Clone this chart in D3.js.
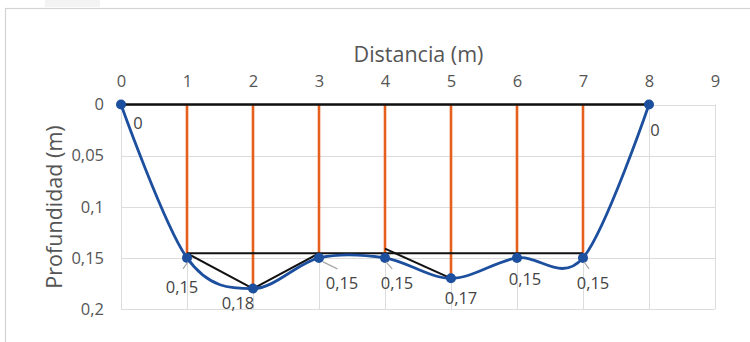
<!DOCTYPE html>
<html>
<head>
<meta charset="utf-8">
<script src="https://cdn.jsdelivr.net/npm/d3@7"></script>
<style>
  html, body { margin: 0; padding: 0; background: #fff; }
  svg { display: block; }
  text { font-family: "Open Sans", "Noto Sans", sans-serif; }
</style>
</head>
<body>
<svg id="chart" width="750" height="342"></svg>
<script>
// ---- data ----
const distances = [0, 1, 2, 3, 4, 5, 6, 7, 8];
const depths = [0, 0.15, 0.18, 0.15, 0.15, 0.17, 0.15, 0.15, 0];
const depthLabels = ["0", "0,15", "0,18", "0,15", "0,15", "0,17", "0,15", "0,15", "0"];
const xTicks = [0, 1, 2, 3, 4, 5, 6, 7, 8, 9];
const yTicks = [0, 0.05, 0.1, 0.15, 0.2];
const yTickLabels = ["0", "0,05", "0,1", "0,15", "0,2"];
// orange vertical measuring lines
const verticalX = [1, 2, 3, 4, 5, 6, 7];
const verticalBottom = [0.15, 0.178, 0.145, 0.145, 0.17, 0.145, 0.145];
// black reference segments [x1, y1, x2, y2]
const blackSegments = [
  [0, 0, 8, 0],
  [1, 0.1455, 7, 0.1455],
  [1, 0.1455, 2, 0.18],
  [2, 0.18, 3, 0.1455],
  [4, 0.141, 5, 0.17]
];
// label placement (pixel offsets from point) and leader lines
const labelDx = [17, -5, -15, 23, 12, 10, 8, 10, 6];
const labelDy = [18, 29, 14, 25, 25, 19, 21, 25, 25];
const leaderIdx = [1, 3, 4, 7];

// ---- layout ----
const svg = d3.select("#chart");
const L = 121, R = 715, T = 104.5, B = 309;
const x = d3.scaleLinear().domain([0, 9]).range([L, R]);
const y = d3.scaleLinear().domain([0, 0.2]).range([T, B]);

// background bits
svg.append("rect").attr("x", 45).attr("y", 0).attr("width", 55).attr("height", 7).attr("fill", "#f3f3f3");
svg.append("rect").attr("x", 5.5).attr("y", 8.5).attr("width", 760).attr("height", 350)
  .attr("fill", "none").attr("stroke", "#d4d4d4").attr("stroke-width", 1.2);

// gridlines
const grid = svg.append("g");
grid.selectAll("line.v").data(xTicks).join("line")
  .attr("x1", d => Math.round(x(d)) + 0.5).attr("x2", d => Math.round(x(d)) + 0.5)
  .attr("y1", T).attr("y2", B).attr("stroke", "#dcdcdc").attr("stroke-width", 1);
grid.selectAll("line.h").data(yTicks).join("line")
  .attr("y1", d => Math.round(y(d)) + 0.5).attr("y2", d => Math.round(y(d)) + 0.5)
  .attr("x1", L).attr("x2", R).attr("stroke", "#dcdcdc").attr("stroke-width", 1);

// axes labels (tick text)
const xAxis = d3.axisTop(x).tickValues(xTicks).tickSize(0).tickFormat(d3.format("d"));
const gx = svg.append("g").attr("transform", `translate(0,${T - 14.5})`).call(xAxis);
gx.select(".domain").remove();
gx.selectAll("text").attr("font-size", 16.5).attr("fill", "#555")
  .style("font-family", '"Open Sans", sans-serif');

const yAxis = d3.axisLeft(y).tickValues(yTicks).tickSize(0).tickFormat((d, i) => yTickLabels[i]);
const gy = svg.append("g").attr("transform", `translate(${L - 14},0)`).call(yAxis);
gy.select(".domain").remove();
gy.selectAll("text").attr("font-size", 16.5).attr("fill", "#555")
  .style("font-family", '"Open Sans", sans-serif');

// titles
svg.append("text").attr("x", 418.5).attr("y", 62).attr("text-anchor", "middle")
  .attr("font-size", 21.5).attr("fill", "#555").text("Distancia (m)");
svg.append("text").attr("transform", "translate(62,207) rotate(-90)").attr("text-anchor", "middle")
  .attr("font-size", 21.5).attr("fill", "#555").text("Profundidad (m)");

// orange verticals
svg.append("g").selectAll("line").data(verticalX).join("line")
  .attr("x1", d => x(d)).attr("x2", d => x(d))
  .attr("y1", y(0)).attr("y2", (d, i) => y(verticalBottom[i]))
  .attr("stroke", "#e5601d").attr("stroke-width", 2.6);

// black segments
svg.append("g").selectAll("line").data(blackSegments).join("line")
  .attr("x1", d => x(d[0])).attr("y1", d => y(d[1]))
  .attr("x2", d => x(d[2])).attr("y2", d => y(d[3]))
  .attr("stroke", "#111").attr("stroke-width", (d, i) => i === 0 ? 2.6 : 2);

// blue smoothed profile
const pts = distances.map((d, i) => [d, depths[i]]);
const line = d3.line().x(d => x(d[0])).y(d => y(d[1])).curve(d3.curveCardinal.tension(0));
svg.append("path").datum(pts).attr("d", line)
  .attr("fill", "none").attr("stroke", "#1d4f9f").attr("stroke-width", 2.8);

// markers
svg.append("g").selectAll("circle").data(pts).join("circle")
  .attr("cx", d => x(d[0])).attr("cy", d => y(d[1])).attr("r", 5)
  .attr("fill", "#1d4f9f");

// leader lines
svg.append("g").selectAll("line").data(leaderIdx).join("line")
  .attr("x1", i => x(distances[i]) + (labelDx[i] > 15 ? 4 : 1))
  .attr("y1", i => y(depths[i]) + 4)
  .attr("x2", i => x(distances[i]) + labelDx[i] * (labelDx[i] > 15 ? 0.8 : 0.6) - (labelDx[i] < 0 ? 1 : 0))
  .attr("y2", i => y(depths[i]) + 11)
  .attr("stroke", "#a6a6a6").attr("stroke-width", 1.2);

// data labels
svg.append("g").selectAll("text").data(pts).join("text")
  .attr("x", (d, i) => x(d[0]) + labelDx[i])
  .attr("y", (d, i) => y(d[1]) + labelDy[i])
  .attr("text-anchor", "middle").attr("dominant-baseline", "central")
  .attr("font-size", 16.5).attr("fill", "#444")
  .text((d, i) => depthLabels[i]);
</script>
</body>
</html>
